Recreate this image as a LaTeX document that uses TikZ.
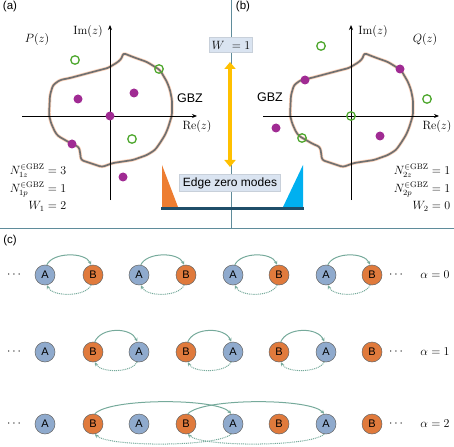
\documentclass[tikz,border=0pt]{standalone}
\usepackage{amsmath}
\usepackage{fontspec}
\newfontfamily\arialf{Liberation Sans}
\usetikzlibrary{arrows.meta}
\definecolor{divc}{RGB}{95,140,155}
\definecolor{gbzc}{RGB}{112,112,112}
\definecolor{glowc}{RGB}{252,212,188}
\definecolor{zgreen}{RGB}{78,167,46}
\definecolor{ppurple}{RGB}{160,43,147}
\definecolor{yelc}{RGB}{255,192,0}
\definecolor{orngc}{RGB}{237,125,49}
\definecolor{bluec}{RGB}{0,176,240}
\definecolor{dkblue}{RGB}{31,78,105}
\definecolor{boxc}{RGB}{218,228,241}
\definecolor{siteAc}{RGB}{143,170,205}
\definecolor{siteBc}{RGB}{224,122,60}
\definecolor{arcc}{RGB}{118,170,155}
\newcommand\gbzcurve[1]{\draw[#1,rounded corners=2.5pt,line join=round] (49,115) -- (50,95) -- (53,85) -- (60,80) -- (70,78) -- (100,70) -- (108,68) -- (118,62) -- (122,58) -- (123,53) -- (133,57) -- (147,62) -- (160,70) -- (167,82) -- (170,90) -- (172,100) -- (172,115) -- (168,128) -- (165,135) -- (160,143) -- (155,150) -- (147,155) -- (133,160) -- (113,163) -- (102,167) -- (90,163) -- (81,160) -- (80,152) -- (79,147) -- (72,144) -- (65,140) -- (58,136) -- (55,132) -- (51,123) -- cycle;}
\begin{document}
\begin{tikzpicture}[x=1pt,y=-1pt,
  axis/.style={line width=0.9pt,-{Stealth[length=5pt,width=4pt]}},
  zero/.style={circle,draw=zgreen,line width=1.3pt,minimum size=8.5pt,inner sep=0pt},
  pole/.style={circle,fill=ppurple,minimum size=9pt,inner sep=0pt},
  lab/.style={font=\arialf\fontsize{11.5}{13}\selectfont},
  mlab/.style={font=\fontsize{12}{14}\selectfont},
  infobox/.style={fill=boxc,draw=boxc!80!gray,line width=0.3pt,inner sep=1.5pt,font=\fontsize{12}{14}\selectfont},
  site/.style={circle,draw=gray!80!black,line width=0.5pt,minimum size=20pt,inner sep=0pt,font=\arialf\fontsize{11}{12}\selectfont},
  siteA/.style={site,fill=siteAc},
  siteB/.style={site,fill=siteBc},
  hop/.style={arcc,line width=1pt,-{Stealth[length=4pt,width=3.5pt]}},
  hopd/.style={hop,dash pattern=on 1pt off 0.9pt}]
\useasboundingbox (0,0) rectangle (454,446);
% dividers
\draw[divc,line width=0.8pt] (231,0) -- (231,228);
\draw[divc,line width=1pt] (0,228) -- (454,228);
% panel labels
\node[lab] (la) at (10,7) {(a)};
\node[lab] (lb) at (243,7) {(b)};
\node[lab] (lc) at (10,241) {(c)};
% panel (a)
\gbzcurve{glowc,line width=3.2pt}
\gbzcurve{gbzc,line width=1.7pt}
\coordinate (ax1) at (22,116); \coordinate (ax2) at (197,116);
\coordinate (ay1) at (110,200); \coordinate (ay2) at (110,25);
\draw[axis] (ax1) -- (ax2);
\draw[axis] (ay1) -- (ay2);
\node[mlab] (ima) at (88,32) {$\mathrm{Im}(z)$};
\node[mlab] (rea) at (197,127) {$\mathrm{Re}(z)$};
\node[mlab] (pz) at (37,40) {$P(z)$};
\node[lab,font=\arialf\fontsize{12.5}{14}\selectfont] (gbza) at (190,98) {GBZ};
\node[zero] (za1) at (75,60) {};
\node[zero] (za2) at (159,69) {};
\node[zero] (za3) at (132,139) {};
\node[pole] (pa1) at (78,99) {};
\node[pole] (pa2) at (134,93) {};
\node[pole] (pa3) at (110,116) {};
\node[pole] (pa4) at (72,144) {};
\node[pole] (pa5) at (123,177) {};
\node[mlab] (ta) at (38,189) {$\begin{aligned}N_{1z}^{\in\mathrm{GBZ}}&=3\\[-1pt] N_{1p}^{\in\mathrm{GBZ}}&=1\\[-1pt] W_1&=2\end{aligned}$};
% panel (b)
\begin{scope}[xshift=241pt]
\gbzcurve{glowc,line width=3.2pt}
\gbzcurve{gbzc,line width=1.7pt}
\end{scope}
\coordinate (bx1) at (263,116); \coordinate (bx2) at (439,116);
\coordinate (by1) at (351,200); \coordinate (by2) at (351,25);
\draw[axis] (bx1) -- (bx2);
\draw[axis] (by1) -- (by2);
\node[mlab] (imb) at (373,32) {$\mathrm{Im}(z)$};
\node[mlab] (reb) at (437,127) {$\mathrm{Re}(z)$};
\node[mlab] (qz) at (425,40) {$Q(z)$};
\node[lab,font=\arialf\fontsize{12.5}{14}\selectfont] (gbzb) at (270,97) {GBZ};
\node[zero] (zb1) at (321,46) {};
\node[zero] (zb2) at (427,99) {};
\node[zero] (zb3) at (302,138) {};
\node[zero] (zb4) at (351,116) {};
\node[pole] (pb1) at (305,80) {};
\node[pole] (pb2) at (400,69) {};
\node[pole] (pb3) at (276,128) {};
\node[pole] (pb4) at (380,136) {};
\node[mlab] (tb) at (422,189) {$\begin{aligned}N_{2z}^{\in\mathrm{GBZ}}&=1\\[-1pt] N_{2p}^{\in\mathrm{GBZ}}&=1\\[-1pt] W_2&=0\end{aligned}$};
% middle
\coordinate (wt) at (230,62); \coordinate (wb) at (230,167);
\draw[yelc,line width=4.5pt,{Triangle[width=11pt,length=7pt]}-{Triangle[width=11pt,length=7pt]}] (wt) -- (wb);
\fill[orngc] (162,165) -- (162,207) -- (178,207) -- cycle;
\fill[bluec] (303,165) -- (303,207) -- (283,207) -- cycle;
\coordinate (bl1) at (161,208.5); \coordinate (bl2) at (304,208.5);
\draw[dkblue,line width=2.5pt] (bl1) -- (bl2);
\node[infobox,minimum width=43pt,minimum height=15pt] (wbox) at (231,45) {$W\ = 1$};
\node[infobox,font=\arialf\fontsize{12}{14}\selectfont,minimum width=101pt,minimum height=17pt] (ebox) at (230,183) {Edge zero modes};
% panel (c)
\foreach \r/\y/\al in {1/275/0,2/352/1,3/424/2} {
  \node[mlab] (ldots\r) at (15,\y) {$\cdots$};
  \node[mlab] (rdots\r) at (397,\y) {$\cdots$};
  \node[mlab] (alpha\r) at (435,\y) {$\alpha=\al$};
  \foreach \i/\x/\t in {1/45/A,2/93/B,3/139/A,4/186/B,5/233/A,6/279/B,7/326/A,8/372/B}
    \node[site\t] (n\r\i) at (\x,\y) {\t};
}
\foreach \i/\j in {1/2,3/4,5/6,7/8} {
  \draw[hop] (n1\i.80) .. controls +(6,-13) and +(-6,-13) .. (n1\j.100);
  \draw[hopd] (n1\j.-100) .. controls +(-6,12) and +(6,12) .. (n1\i.-80);
}
\foreach \i/\j in {2/3,4/5,6/7} {
  \draw[hop] (n2\i.80) .. controls +(6,-15) and +(-6,-15) .. (n2\j.100);
  \draw[hopd] (n2\j.-100) .. controls +(-6,11) and +(6,11) .. (n2\i.-80);
}
\foreach \i/\j in {2/5,4/7} {
  \draw[hop] (n3\i.80) .. controls +(14,-16) and +(-14,-16) .. (n3\j.100);
  \draw[hopd] (n3\j.-100) .. controls +(-14,13) and +(14,13) .. (n3\i.-80);
}
\end{tikzpicture}
\end{document}
